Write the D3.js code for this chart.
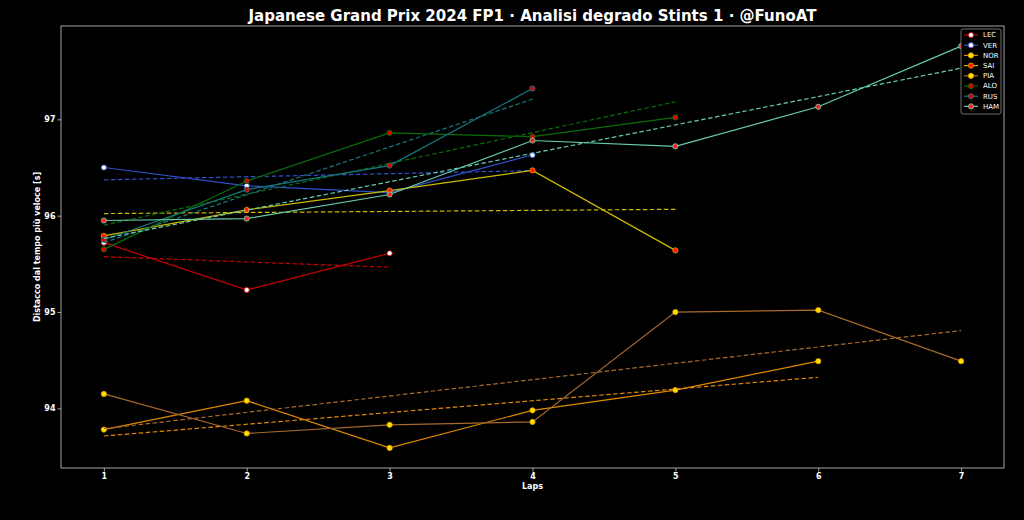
<!DOCTYPE html>
<html>
<head>
<meta charset="utf-8">
<script src="https://cdn.jsdelivr.net/npm/d3@7"></script>
<style>
  html, body { margin: 0; padding: 0; background: #000; }
  svg { display: block; }
  text { font-family: "DejaVu Sans", sans-serif; fill: #fff; }
</style>
</head>
<body>
<script>
// lap numbers and driver codes
var laps = [1, 2, 3, 4, 5, 6, 7]
var drivers = ["LEC", "VER", "NOR", "SAI", "PIA", "ALO", "RUS", "HAM"]

// gap to fastest lap [s], one value per lap of stint 1
var lecTimes = [95.72, 95.23, 95.61]
var verTimes = [96.50, 96.31, 96.24, 96.63]
var norTimes = [93.78, 94.08, 93.59, 93.98, 94.19, 94.49]
var saiTimes = [95.79, 96.06, 96.26, 96.47, 95.64]
var piaTimes = [94.15, 93.74, 93.83, 93.86, 95.00, 95.02, 94.49]
var aloTimes = [95.65, 96.36, 96.86, 96.82, 97.02]
var rusTimes = [95.75, 96.27, 96.52, 97.32]
var hamTimes = [95.95, 95.97, 96.22, 96.78, 96.72, 97.13, 97.76]

var yTicks = [94, 95, 96, 97]

var lineColors = ["#c80000", "#3050c8", "#e08a00", "#ccbb00", "#a86a2c", "#0a6e0a", "#16787e", "#66ccb0"]
var markerFill = ["#ffffff", "#ffffff", "#ffe000", "#ff1a00", "#ffe000", "#e00000", "#e00000", "#ff2020"]
var markerEdge = ["#c80000", "#3050c8", "#e0a000", "#f09000", "#e0a000", "#0a6e0a", "#16787e", "#66ccb0"]

var allTimes = [lecTimes, verTimes, norTimes, saiTimes, piaTimes, aloTimes, rusTimes, hamTimes]

var series = drivers.map(function(d, i){
  return {
    driver: d,
    points: allTimes[i].map(function(v, j){ return {lap: laps[j], value: v} }),
    color: lineColors[i], fill: markerFill[i], edge: markerEdge[i]
  }
})

// least squares trend for each stint
function trend(points){
  var mx = d3.mean(points, function(p){ return p.lap })
  var my = d3.mean(points, function(p){ return p.value })
  var sxy = d3.sum(points, function(p){ return (p.lap - mx) * (p.value - my) })
  var sxx = d3.sum(points, function(p){ return (p.lap - mx) * (p.lap - mx) })
  var b = sxy / sxx
  var first = points[0].lap, last = points[points.length - 1].lap
  return [{lap: first, value: my + b * (first - mx)}, {lap: last, value: my + b * (last - mx)}]
}

var W = 1024, H = 520
var margin = {top: 26, right: 20, bottom: 52, left: 61}

var svg = d3.select("body").append("svg")
  .attr("width", W).attr("height", H)

svg.append("rect").attr("width", W).attr("height", H).attr("fill", "#000")

// matplotlib style 5% padding
var xMin = d3.min(laps), xMax = d3.max(laps)
var vals = d3.merge(allTimes)
var yMin = d3.min(vals), yMax = d3.max(vals)
var xPad = (xMax - xMin) * 0.05, yPad = (yMax - yMin) * 0.05

var x = d3.scaleLinear()
  .domain([xMin - xPad, xMax + xPad])
  .range([margin.left, W - margin.right])

var y = d3.scaleLinear()
  .domain([yMin - yPad, yMax + yPad])
  .range([H - margin.bottom, margin.top])

var xAxis = svg.append("g")
  .attr("transform", "translate(0," + (H - margin.bottom) + ")")
  .call(d3.axisBottom(x).tickValues(laps).tickFormat(d3.format("d")).tickSize(3.5).tickPadding(2))
var yAxis = svg.append("g")
  .attr("transform", "translate(" + margin.left + ",0)")
  .call(d3.axisLeft(y).tickValues(yTicks).tickFormat(d3.format("d")).tickSize(3.5).tickPadding(2))

;[xAxis, yAxis].forEach(function(a){
  a.select(".domain").remove()
  a.selectAll("line").attr("stroke", "#cccccc").attr("stroke-width", 0.8)
  a.selectAll("text").attr("fill", "#eeeeee").style("font-size", "8px").style("font-weight", "bold")
})

// frame
svg.append("rect")
  .attr("x", margin.left).attr("y", margin.top)
  .attr("width", W - margin.right - margin.left)
  .attr("height", H - margin.bottom - margin.top)
  .attr("fill", "none").attr("stroke", "#cccccc").attr("stroke-width", 0.8)

var line = d3.line()
  .x(function(d){ return x(d.lap) })
  .y(function(d){ return y(d.value) })

var plot = svg.append("g")

series.forEach(function(s){
  var g = plot.append("g").attr("class", "driver")
  g.append("path")
    .attr("d", line(s.points))
    .attr("fill", "none").attr("stroke", s.color).attr("stroke-width", 1.2)
  g.selectAll("circle").data(s.points).enter().append("circle")
    .attr("cx", function(d){ return x(d.lap) })
    .attr("cy", function(d){ return y(d.value) })
    .attr("r", 2.6)
    .attr("fill", s.fill).attr("stroke", s.edge).attr("stroke-width", 0.9)
  g.append("path")
    .attr("d", line(trend(s.points)))
    .attr("fill", "none").attr("stroke", s.color).attr("stroke-width", 1.2)
    .attr("stroke-dasharray", "4.5,2.5")
})

// title
svg.append("text")
  .attr("x", (margin.left + W - margin.right) / 2).attr("y", 21)
  .attr("text-anchor", "middle")
  .attr("textLength", 568).attr("lengthAdjust", "spacingAndGlyphs")
  .style("font-size", "15px").style("font-weight", "bold")
  .text("Japanese Grand Prix 2024 FP1 · Analisi degrado Stints 1 · @FunoAT")

// axis labels
svg.append("text")
  .attr("x", (margin.left + W - margin.right) / 2).attr("y", 489)
  .attr("text-anchor", "middle")
  .style("font-size", "8px").style("font-weight", "bold")
  .text("Laps")

svg.append("text")
  .attr("transform", "translate(40," + ((margin.top + H - margin.bottom) / 2) + ") rotate(-90)")
  .attr("text-anchor", "middle")
  .style("font-size", "8px").style("font-weight", "bold")
  .text("Distacco dal tempo più veloce [s]")

// legend
var legend = svg.append("g").attr("transform", "translate(961,29)")
legend.append("rect")
  .attr("width", 40).attr("height", 85).attr("rx", 2)
  .attr("fill", "#000").attr("stroke", "#888888").attr("stroke-width", 0.8)

var item = legend.selectAll(".item").data(series).enter().append("g")
  .attr("transform", function(d, i){ return "translate(0," + (6 + i * 10.2) + ")" })

item.append("line")
  .attr("x1", 3).attr("x2", 17)
  .attr("stroke", function(d){ return d.color }).attr("stroke-width", 1.2)
item.append("circle")
  .attr("cx", 10).attr("r", 2.6)
  .attr("fill", function(d){ return d.fill })
  .attr("stroke", function(d){ return d.edge }).attr("stroke-width", 0.9)
item.append("text")
  .attr("x", 22).attr("dy", "0.35em")
  .style("font-size", "7px")
  .attr("fill", "#dddddd")
  .text(function(d){ return d.driver })
</script>
</body>
</html>
